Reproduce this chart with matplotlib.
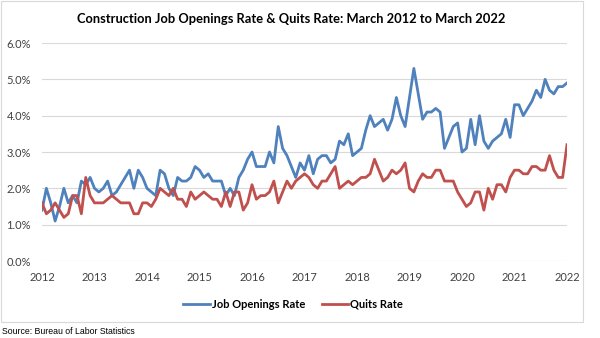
import matplotlib
matplotlib.use("Agg")
from matplotlib import pyplot as plt
from matplotlib.patches import Rectangle
from matplotlib.ticker import PercentFormatter, FixedLocator

# Monthly rates, March 2012 .. March 2022 (percent)
job_openings = [
    1.4, 2.0, 1.6, 1.1, 1.5, 2.0, 1.6, 1.8, 1.6, 2.2, 2.1, 2.3,
    2.0, 1.9, 2.0, 2.2, 1.8, 1.9, 2.1, 2.3, 2.5, 2.0, 2.5, 2.3,
    2.0, 1.9, 1.8, 2.5, 2.4, 2.0, 1.8, 2.3, 2.2, 2.2, 2.3, 2.6,
    2.5, 2.3, 2.4, 2.2, 2.2, 2.2, 1.8, 2.0, 1.8, 2.3, 2.5, 2.8,
    3.0, 2.6, 2.6, 2.6, 3.0, 2.7, 3.7, 3.1, 2.9, 2.6, 2.3, 2.7,
    2.5, 2.9, 2.4, 2.8, 2.9, 2.9, 2.7, 2.8, 3.3, 3.2, 3.5, 2.9,
    3.0, 3.1, 3.6, 4.0, 3.7, 3.8, 3.9, 3.6, 3.9, 4.5, 4.0, 3.7,
    4.5, 5.3, 4.6, 3.9, 4.1, 4.1, 4.2, 4.1, 3.1, 3.4, 3.7, 3.8,
    3.0, 3.1, 3.9, 3.2, 4.0, 3.3, 3.1, 3.3, 3.4, 3.5, 3.9, 3.4,
    4.3, 4.3, 4.0, 4.2, 4.4, 4.7, 4.5, 5.0, 4.7, 4.6, 4.8, 4.8,
    4.9,
]
quits = [
    1.6, 1.3, 1.4, 1.6, 1.4, 1.2, 1.3, 1.8, 1.8, 1.3, 2.3, 1.8,
    1.6, 1.6, 1.6, 1.7, 1.8, 1.7, 1.6, 1.6, 1.6, 1.3, 1.3, 1.6,
    1.6, 1.5, 1.7, 2.0, 1.9, 1.8, 2.0, 1.7, 1.7, 1.5, 1.9, 1.7,
    1.8, 1.9, 1.8, 1.7, 1.7, 1.5, 1.9, 1.5, 1.9, 1.9, 1.4, 1.6,
    2.1, 1.7, 1.8, 1.8, 1.9, 2.2, 1.6, 1.9, 2.2, 2.0, 2.2, 2.3,
    2.4, 2.3, 2.1, 2.0, 2.2, 2.2, 2.4, 2.6, 2.0, 2.1, 2.2, 2.1,
    2.2, 2.3, 2.3, 2.4, 2.8, 2.5, 2.2, 2.3, 2.5, 2.4, 2.5, 2.7,
    2.0, 1.9, 2.2, 2.4, 2.3, 2.3, 2.5, 2.5, 2.2, 2.2, 2.2, 1.9,
    1.7, 1.5, 1.6, 1.9, 1.9, 1.4, 2.0, 1.7, 2.1, 2.1, 1.9, 2.3,
    2.5, 2.5, 2.4, 2.4, 2.6, 2.6, 2.5, 2.5, 2.9, 2.5, 2.3, 2.3,
    3.2,
]
years = [str(y) for y in range(2012, 2023)]

blue = '#4F81BD'
red = '#C0504D'
txt = '#404040'
plt.rcParams['font.family'] = ['Lato', 'DejaVu Sans']

fig = plt.figure(figsize=(6, 3.38), dpi=100)
ax = fig.add_axes([42 / 600, 77 / 338, 525 / 600, 218 / 338])

months = range(len(job_openings))
ax.plot(months, job_openings, color=blue, lw=2.0, label='Job Openings Rate')
ax.plot(months, quits, color=red, lw=2.0, label='Quits Rate')

ax.set_xlim(0, len(job_openings) - 1)
ax.set_ylim(0, 6)
ax.yaxis.set_major_locator(FixedLocator([0, 1, 2, 3, 4, 5, 6]))
ax.yaxis.set_major_formatter(PercentFormatter(xmax=100, decimals=1))
ax.set_xticks(range(0, len(job_openings), 12))
ax.set_xticklabels(years)
ax.tick_params(length=0, labelsize=8, labelcolor=txt)
ax.tick_params(axis='y', pad=8)
ax.tick_params(axis='x', pad=8)
ax.grid(axis='y', color='#d9d9d9', lw=0.8)
ax.set_axisbelow(True)
for s in ax.spines.values():
    s.set_visible(False)

fig.text(291 / 600, 1 - 19 / 338,
         'Construction Job Openings Rate & Quits Rate: March 2012 to March 2022',
         ha='center', va='center', fontsize=9.3, fontweight='bold', color='black')

fig.legend(loc='center', bbox_to_anchor=(293 / 600, 1 - 304 / 338), ncol=2,
           frameon=False, handlelength=2.4, handletextpad=0.15, columnspacing=1.5,
           prop={'size': 8, 'weight': 'bold'})

fig.text(2 / 600, 1 - 331 / 338, 'Source: Bureau of Labor Statistics',
         ha='left', va='center', fontsize=6.3, family='Liberation Sans', color='black')

# light chart-area frame
fig.patches.append(Rectangle((0.5 / 600, 1 - 322 / 338), 582 / 600, 321 / 338,
                             transform=fig.transFigure, fill=False,
                             edgecolor='#d9d9d9', lw=0.8))

fig.savefig('out.png', dpi=100)
